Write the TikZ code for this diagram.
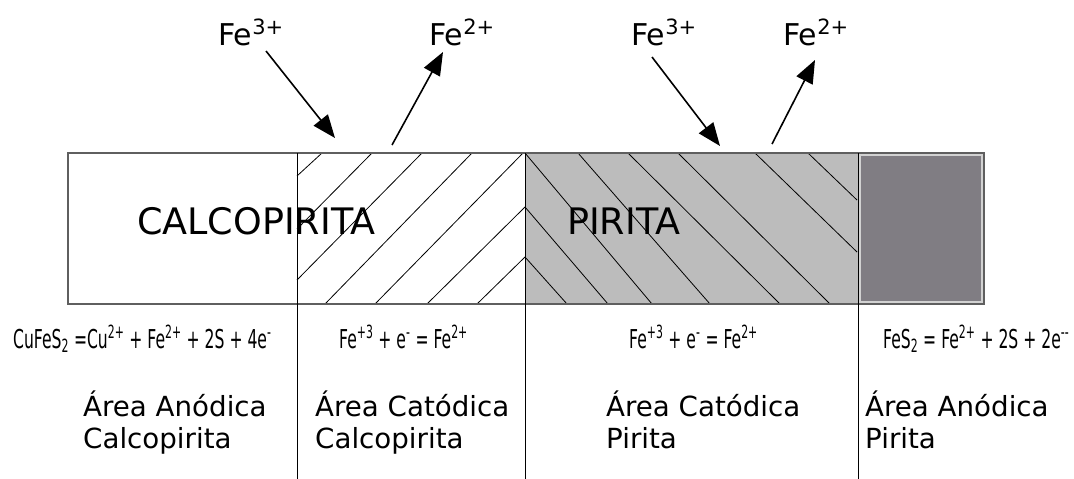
\documentclass[tikz,border=0pt]{standalone}
\usepackage{fontspec}
\setmainfont{DejaVu Sans}
\newfontfamily\eqfont[FakeStretch=0.6]{DejaVu Sans}
\usetikzlibrary{arrows.meta}
\definecolor{framec}{RGB}{95,95,95}
\definecolor{pyrgray}{RGB}{188,188,188}
\definecolor{darkbox}{RGB}{128,125,131}
\definecolor{darkedge}{RGB}{210,210,210}
\begin{document}
\begin{tikzpicture}[x=1pt,y=-1pt,
  ion/.style={anchor=base west, inner sep=0pt, font=\fontsize{30}{30}\selectfont},
  mineral/.style={anchor=base west, inner sep=0pt, font=\fontsize{36.5}{40}\selectfont},
  eqn/.style={anchor=base west, inner sep=0pt, font=\eqfont\fontsize{26}{26}\selectfont},
  area/.style={anchor=base west, inner sep=0pt, font=\fontsize{27.7}{32}\selectfont},
  hatch/.style={line width=0.8pt, black},
  divider/.style={line width=1pt, black},
  frame/.style={line width=1.6pt, draw=framec},
  arrowst/.style={line width=1.6pt, -{Triangle[length=23pt,width=18pt]}}
]
\useasboundingbox (0,0) rectangle (1074,479);
\fill[white] (0,0) rectangle (1074,479);
% regions
\fill[pyrgray] (525,153) rectangle (858,304);
\filldraw[fill=darkbox, draw=darkedge, line width=1.4pt] (860,155) rectangle (982,302);
% hatching chalcopyrite cathodic area
\draw[hatch] (322,153) -- (297,176);
\draw[hatch] (372,153) -- (297,229);
\draw[hatch] (422,153) -- (297,280);
\draw[hatch] (472,153) -- (325,304);
\draw[hatch] (523,153) -- (375,304);
\draw[hatch] (525,207) -- (427,304);
\draw[hatch] (525,257) -- (477,304);
% hatching pyrite cathodic area
\draw[hatch] (525,153) -- (652,304);
\draw[hatch] (525,207) -- (608,304);
\draw[hatch] (525,257) -- (567,304);
\draw[hatch] (578,153) -- (710,304);
\draw[hatch] (628,153) -- (780,304);
\draw[hatch] (678,153) -- (830,304);
\draw[hatch] (755,153) -- (857,252);
\draw[hatch] (808,153) -- (857,200);
% frame
\draw[frame] (68,153) rectangle (984,304);
% dividers
\draw[divider] (297,153) -- (297,479);
\draw[divider] (525,153) -- (525,479);
\draw[divider] (858,153) -- (858,479);
% mineral labels
\node[mineral] (calco) at (137,234) {CALCOPIRITA};
\node[mineral] (pirita) at (567,234) {PIRITA};
% ions
\node[ion] (fe3a) at (218,45) {Fe\raisebox{10.5pt}{\fontsize{21}{21}\selectfont 3+}};
\node[ion] (fe2a) at (429,45) {Fe\raisebox{10.5pt}{\fontsize{21}{21}\selectfont 2+}};
\node[ion] (fe3b) at (631,45) {Fe\raisebox{10.5pt}{\fontsize{21}{21}\selectfont 3+}};
\node[ion] (fe2b) at (783,45) {Fe\raisebox{10.5pt}{\fontsize{21}{21}\selectfont 2+}};
% arrows
\coordinate (a1s) at (266,51);  \coordinate (a1e) at (335,138);
\coordinate (a2s) at (392,145); \coordinate (a2e) at (443,52);
\coordinate (a3s) at (652,57);  \coordinate (a3e) at (720,146);
\coordinate (a4s) at (772,144); \coordinate (a4e) at (815,60);
\draw[arrowst] (a1s) -- (a1e);
\draw[arrowst] (a2s) -- (a2e);
\draw[arrowst] (a3s) -- (a3e);
\draw[arrowst] (a4s) -- (a4e);
% equations
\node[eqn] (eq1) at (13,348) {CuFeS\textsubscript{2} =Cu\textsuperscript{2+} + Fe\textsuperscript{2+} + 2S + 4e\textsuperscript{-}};
\node[eqn] (eq2) at (339,348) {Fe\textsuperscript{+3} + e\textsuperscript{-} = Fe\textsuperscript{2+}};
\node[eqn] (eq3) at (629,348) {Fe\textsuperscript{+3} + e\textsuperscript{-} = Fe\textsuperscript{2+}};
\node[eqn] (eq4) at (883,348) {FeS\textsubscript{2} = Fe\textsuperscript{2+} + 2S + 2e\textsuperscript{-{}-}};
% area labels
\node[area] (ar1a) at (83,416) {Área Anódica};
\node[area] (ar1b) at (83,448) {Calcopirita};
\node[area] (ar2a) at (315,416) {Área Catódica};
\node[area] (ar2b) at (315,448) {Calcopirita};
\node[area] (ar3a) at (606,416) {Área Catódica};
\node[area] (ar3b) at (606,448) {Pirita};
\node[area] (ar4a) at (865,416) {Área Anódica};
\node[area] (ar4b) at (865,448) {Pirita};
\end{tikzpicture}
\end{document}
